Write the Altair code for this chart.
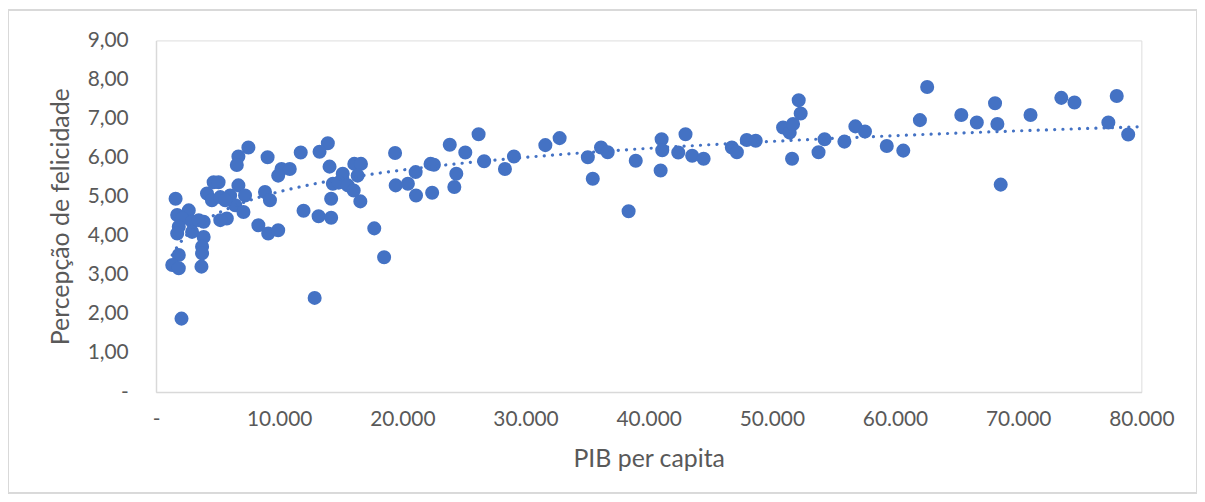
import altair as alt
import pandas as pd

# PIB per capita (x) and Percepção de felicidade (y)
gdp = [1590, 7500, 6690, 6560, 9060, 10190, 10860, 9920, 4680, 5080,
       4140, 4540, 5220, 6020, 6690, 7230, 8850, 9250, 6430, 7100,
       5750, 5220, 8310, 9110, 9920, 1720, 2660, 2120, 2930, 3870,
       1850, 1720, 2930, 3870, 3740, 3740, 1850, 1320, 1850, 3690,
       2070, 5620, 3470,
       11750, 13950, 13280, 14090, 11980, 13200, 14220, 15160, 16100, 16640,
       16370, 14360, 14840, 15570, 16050, 16590, 14220, 17720, 18520, 12880,
       19410, 19460, 20450, 21080, 21110, 22290, 22560, 22420, 23850, 25110,
       26190, 24380, 24220, 26640, 28330, 29060, 31610, 32770, 35060, 35460,
       36130, 36670, 38950, 38370, 41050, 41100, 40970, 42990, 42400, 43530,
       44460, 46750, 47160, 47960, 48690, 50910, 51450, 51720, 52180, 52340,
       51640, 53790, 54280, 55890, 56780, 57560, 59330, 60670, 62020, 62610,
       65380, 66640, 68120, 68310, 68580, 71000, 73500, 74570, 77320, 78000,
       78930]
happiness = [4.95, 6.26, 6.03, 5.81, 6.01, 5.71, 5.71, 5.54, 5.37, 5.37,
             5.08, 4.91, 4.99, 5.03, 5.29, 5.03, 5.12, 4.91, 4.78, 4.61,
             4.44, 4.40, 4.27, 4.06, 4.14, 4.53, 4.65, 4.44, 4.36, 4.36,
             4.23, 4.06, 4.10, 3.97, 3.72, 3.55, 3.51, 3.25, 3.17, 3.21,
             1.88, 4.91, 4.40,
             6.13, 6.37, 6.15, 5.77, 4.64, 4.50, 4.46, 5.59, 5.84, 5.84,
             5.54, 5.33, 5.36, 5.29, 5.16, 4.88, 4.95, 4.19, 3.45, 2.41,
             6.12, 5.29, 5.33, 5.63, 5.03, 5.84, 5.82, 5.10, 6.33, 6.13,
             6.60, 5.59, 5.25, 5.91, 5.71, 6.03, 6.32, 6.50, 6.01, 5.46,
             6.26, 6.14, 5.92, 4.63, 6.47, 6.19, 5.67, 6.60, 6.13, 6.05,
             5.97, 6.26, 6.14, 6.45, 6.43, 6.77, 6.64, 6.86, 7.47, 7.13,
             5.97, 6.14, 6.47, 6.41, 6.80, 6.67, 6.30, 6.18, 6.96, 7.81,
             7.09, 6.90, 7.39, 6.86, 5.31, 7.09, 7.53, 7.41, 6.90, 7.58,
             6.59]

x_ticks = [0, 10000, 20000, 30000, 40000, 50000, 60000, 70000, 80000]
y_ticks = [0, 1, 2, 3, 4, 5, 6, 7, 8, 9]

df = pd.DataFrame({"gdp": gdp, "hap": happiness})

BLUE = "#4472C4"
GREY = "#595959"
FONT = "Lato"

x_enc = alt.X(
    "gdp:Q",
    scale=alt.Scale(domain=[0, 80000], nice=False, zero=True),
    axis=alt.Axis(
        title="PIB per capita",
        values=x_ticks,
        labelExpr="datum.value == 0 ? '-\u00a0\u00a0' : replace(format(datum.value, ','), ',', '.')",
        labelPadding=17, titlePadding=17,
    ),
)
y_enc = alt.Y(
    "hap:Q",
    scale=alt.Scale(domain=[0, 9], nice=False),
    axis=alt.Axis(
        title="Percepção de felicidade",
        values=y_ticks,
        labelExpr="datum.value == 0 ? '-\u00a0\u00a0' : replace(format(datum.value, '.2f'), '.', ',')",
        labelPadding=28, titlePadding=14,
    ),
)

base = alt.Chart(df).encode(x=x_enc, y=y_enc)

points = base.mark_circle(size=200, color=BLUE, opacity=1)

trend = base.transform_regression(
    "gdp", "hap", method="log", extent=[min(gdp), 80000]
).mark_line(
    color=BLUE, strokeWidth=3.2, strokeDash=[0.1, 8.2], strokeCap="round"
)

frame = alt.Chart(df).mark_rect(
    fill=None, stroke="#D9D9D9", strokeWidth=1
).encode(
    x=alt.value(-148.5), x2=alt.value(1047.5),
    y=alt.value(-30.5), y2=alt.value(455.5)
)

chart = alt.layer(frame, points, trend).properties(
    width=992, height=354,
    autosize=alt.AutoSizeParams(type="none"),
    padding={"left": 149, "top": 31, "right": 56, "bottom": 105},
).configure_view(stroke=None).configure(background="white").configure_axis(
    grid=False, ticks=False, labelFlush=False, labelOverlap=False,
    domainColor="#D9D9D9", domainWidth=1.5,
    labelColor=GREY, labelFont=FONT, labelFontSize=21,
    titleColor=GREY, titleFont=FONT, titleFontSize=25, titleFontWeight="normal",
)

chart.save("out.html", embed_options={"renderer": "svg", "actions": False})
